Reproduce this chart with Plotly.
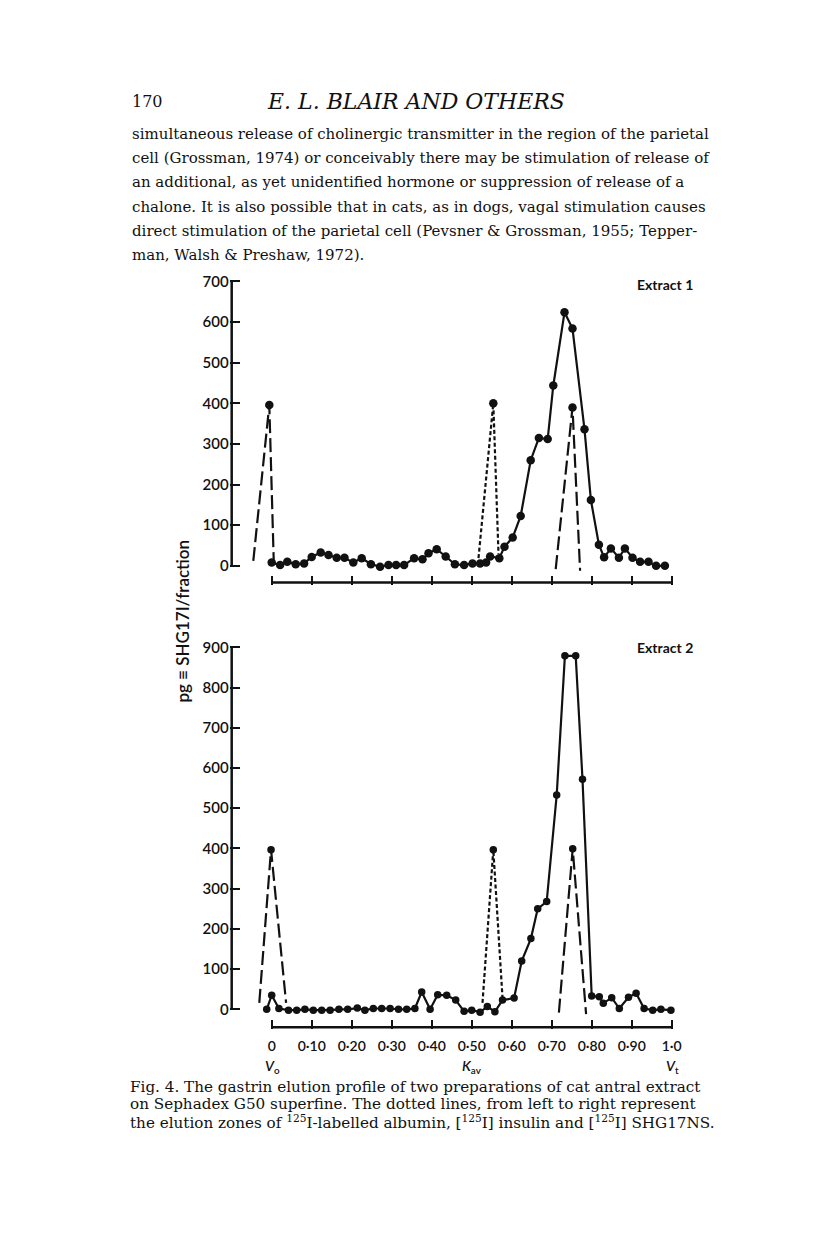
import plotly.graph_objects as go

W, H = 816, 1234
OFF_X, OFF_Y = 8, 10  # page body margin in the browser

# ---- data (Kav, pg SHG17I per fraction) ----
kav_1 = [0.0, 0.021, 0.039, 0.06, 0.081, 0.1, 0.1225, 0.142, 0.1625, 0.182,
         0.204, 0.225, 0.248, 0.271, 0.292, 0.311, 0.331, 0.356, 0.377, 0.392,
         0.4125, 0.435, 0.458, 0.481, 0.502, 0.521, 0.536, 0.546, 0.569, 0.582,
         0.6025, 0.6225, 0.6475, 0.668, 0.69, 0.704, 0.732, 0.752, 0.782, 0.798,
         0.818, 0.831, 0.848, 0.868, 0.883, 0.902, 0.921, 0.942, 0.961, 0.983]
pg_1 = [8, 2, 10, 4, 6, 22, 33, 27, 20, 20,
        8, 19, 4, -2, 2, 2, 2, 19, 16, 31,
        41, 23, 4, 2, 6, 6, 8, 23, 19, 47,
        70, 123, 260, 315, 312, 444, 624, 584, 336, 162,
        52, 21, 43, 20, 43, 20, 10, 10, 0, 0]

kav_2 = [-0.0125, 0.0, 0.018, 0.042, 0.0625, 0.083, 0.104, 0.125, 0.146, 0.168,
         0.19, 0.214, 0.233, 0.254, 0.275, 0.296, 0.317, 0.3375, 0.358, 0.375,
         0.396, 0.415, 0.4375, 0.46, 0.481, 0.5, 0.521, 0.539, 0.558, 0.577,
         0.606, 0.625, 0.648, 0.665, 0.6875, 0.7125, 0.733, 0.76, 0.777, 0.8,
         0.819, 0.829, 0.85, 0.869, 0.892, 0.911, 0.931, 0.9525, 0.973, 0.998]
pg_2 = [0, 35, 2, -2, -2, 0, -2, -2, -2, 0,
        0, 3, -2, 2, 2, 2, 0, 0, 2, 43,
        0, 36, 35, 23, -5, -2, -7, 7, -6, 23,
        28, 120, 176, 250, 268, 533, 879, 879, 572, 33,
        31, 15, 29, 2, 30, 40, 2, -2, 0, -2]

# elution zones of markers (albumin, insulin, SHG17NS)
alb_1_x, alb_1_y = [-0.046, -0.006, 0.005], [12, 396, 15]
ins_1_x, ins_1_y = [0.517, 0.554, 0.567], [19, 400, 29]
shg_1_x, shg_1_y = [0.71, 0.752, 0.771], [-8, 390, -12]

alb_2_x, alb_2_y = [-0.031, -0.0017, 0.036], [16, 397, 16]
ins_2_x, ins_2_y = [0.527, 0.554, 0.577], [16, 397, 29]
shg_2_x, shg_2_y = [0.718, 0.7525, 0.786], [-8, 399, -12]

kav_ticks = [0, 0.1, 0.2, 0.3, 0.4, 0.5, 0.6, 0.7, 0.8, 0.9, 1.0]
kav_labels = ["0", "0·10", "0·20", "0·30", "0·40", "0·50", "0·60", "0·70",
              "0·80", "0·90", "1·0"]
y1_ticks = [0, 100, 200, 300, 400, 500, 600, 700]
y2_ticks = [0, 100, 200, 300, 400, 500, 600, 700, 800, 900]

INK = "#111111"
SANS = "Lato, 'Open Sans', sans-serif"
SERIF = "'DejaVu Serif', 'Liberation Serif', serif"


def px_x(p):
    return (p - OFF_X) / W


def px_y(p):
    return 1 - (p - OFF_Y) / H


fig = go.Figure()

# ---- panel geometry (pixels) ----
X_MIN, X_MAX = -0.105, 1.05
x_left = 271.7 + 400 * X_MIN
x_right = 271.7 + 400 * X_MAX

# top: 0 at 564px, 700 at 278px
s1 = (564 - 278) / 700.0
r1 = [-46, 706]
base_1 = -41
# bottom: 0 at 1010px, 900 at 646px
s2 = (1010 - 646) / 900.0
r2 = [-50, 906]
base_2 = -44.5


def add_panel(xa, ya, kav, pg, alb, ins, shg, base, ytop, msize):
    ax = dict(xaxis=xa, yaxis=ya)
    # axis lines drawn through the data scales
    fig.add_trace(go.Scatter(x=[-0.1, -0.1], y=[0, ytop], mode="lines",
                             line=dict(color=INK, width=2.5), hoverinfo="skip", **ax))
    fig.add_trace(go.Scatter(x=[0, 1.0], y=[base, base], mode="lines",
                             line=dict(color=INK, width=2.5), hoverinfo="skip", **ax))
    # marker elution zones
    for (zx, zy), dash in [(alb, "14px,5px"), (ins, "4px,2.5px"), (shg, "14px,5px")]:
        fig.add_trace(go.Scatter(x=zx, y=zy, mode="lines",
                                 line=dict(color=INK, width=2.2, dash=dash),
                                 hoverinfo="skip", **ax))
        fig.add_trace(go.Scatter(x=zx[1:2], y=zy[1:2], mode="markers",
                                 marker=dict(color=INK, size=msize), **ax))
    # gastrin profile
    fig.add_trace(go.Scatter(x=kav, y=pg, mode="lines+markers",
                             line=dict(color=INK, width=2.2),
                             marker=dict(color=INK, size=msize), **ax))


add_panel("x", "y", kav_1, pg_1, (alb_1_x, alb_1_y), (ins_1_x, ins_1_y),
          (shg_1_x, shg_1_y), base_1, 700, 8.5)
add_panel("x2", "y2", kav_2, pg_2, (alb_2_x, alb_2_y), (ins_2_x, ins_2_y),
          (shg_2_x, shg_2_y), base_2, 900, 7.5)

xdom = [px_x(x_left), px_x(x_right)]
y1dom = [px_y(564 - r1[0] * s1), px_y(564 - r1[1] * s1)]
y2dom = [px_y(1010 - r2[0] * s2), px_y(1010 - r2[1] * s2)]

xcommon = dict(range=[X_MIN, X_MAX], domain=xdom, showline=False, showgrid=False,
               zeroline=False, ticks="inside", ticklen=9, tickwidth=2, tickcolor=INK,
               tickvals=kav_ticks, ticktext=kav_labels, ticklabelstandoff=7,
               tickfont=dict(family=SANS, size=14, color=INK, weight=600))
ycommon = dict(showline=False, showgrid=False, zeroline=False, ticks="inside",
               ticklen=10, tickwidth=2, tickcolor=INK,
               tickfont=dict(family=SANS, size=15, color=INK, weight=600))

fig.update_layout(
    width=W, height=H,
    margin=dict(l=0, r=0, t=0, b=0),
    paper_bgcolor="white", plot_bgcolor="white",
    showlegend=False,
    xaxis=dict(xcommon, anchor="y", showticklabels=False),
    yaxis=dict(ycommon, anchor="x", domain=y1dom, range=r1, tickvals=y1_ticks),
    xaxis2=dict(xcommon, anchor="y2"),
    yaxis2=dict(ycommon, anchor="x2", domain=y2dom, range=r2, tickvals=y2_ticks),
)

ann = []


def text(xp, yp, s, size, family=SERIF, anchor="left", angle=0, weight=None):
    f = dict(family=family, size=size, color=INK)
    if weight:
        f["weight"] = weight
    ann.append(dict(x=px_x(xp), y=px_y(yp), xref="paper", yref="paper", text=s,
                    showarrow=False, xanchor=anchor, yanchor="middle", textangle=angle,
                    font=f))


# page header and body text
text(130, 97, "170", 16)
text(416, 97, "<i>E. L. BLAIR AND OTHERS</i>", 22, anchor="center")
body = [
    "simultaneous release of cholinergic transmitter in the region of the parietal",
    "cell (Grossman, 1974) or conceivably there may be stimulation of release of",
    "an additional, as yet unidentified hormone or suppression of release of a",
    "chalone. It is also possible that in cats, as in dogs, vagal stimulation causes",
    "direct stimulation of the parietal cell (Pevsner & Grossman, 1955; Tepper-",
    "man, Walsh & Preshaw, 1972).",
]
for i, line in enumerate(body):
    text(130, 130 + i * 24.2, line, 15)

# panel labels
text(695, 281, "<b>Extract 1</b>", 14, family=SANS, anchor="right")
text(695, 646, "<b>Extract 2</b>", 14, family=SANS, anchor="right")

# y axis title
text(183, 620, "pg ≡ SHG17I/fraction", 17, family=SANS, anchor="center", angle=-90, weight=600)

# Kav axis labels
text(272, 1068, "<i>V</i><sub>o</sub>", 14, family=SANS, anchor="center", weight=600)
text(472, 1068, "<i>K</i><sub>av</sub>", 14, family=SANS, anchor="center", weight=600)
text(672, 1068, "<i>V</i><sub>t</sub>", 14, family=SANS, anchor="center", weight=600)

# caption
caption = [
    "Fig. 4. The gastrin elution profile of two preparations of cat antral extract",
    "on Sephadex G50 superfine. The dotted lines, from left to right represent",
    "the elution zones of <sup>125</sup>I-labelled albumin, [<sup>125</sup>I] insulin and [<sup>125</sup>I] SHG17NS.",
]
for i, line in enumerate(caption):
    text(128, 1088 + i * 17.5, line, 15.2)

fig.update_layout(annotations=ann)

fig.write_html("out.html")
